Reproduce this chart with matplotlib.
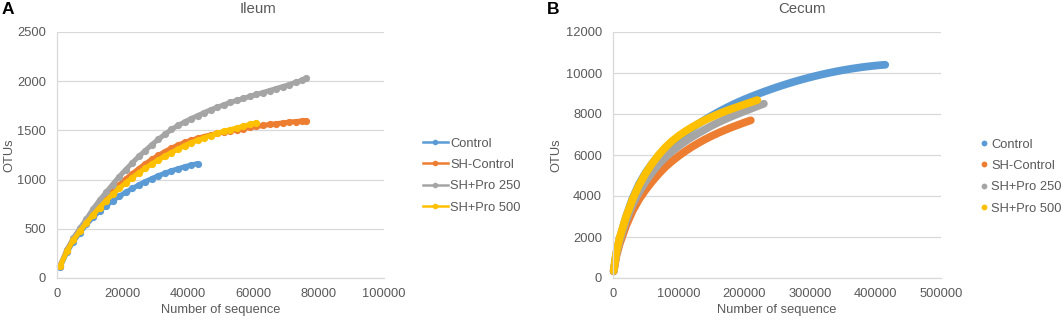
import matplotlib
matplotlib.use("Agg")
import matplotlib.pyplot as plt
from matplotlib.lines import Line2D

plt.rcParams['font.family'] = ['Liberation Sans', 'DejaVu Sans']

# ---------------- data ----------------
series_names = ["Control", "SH-Control", "SH+Pro 250", "SH+Pro 500"]
colors = ["#5B9BD5", "#ED7D31", "#A5A5A5", "#FFC000"]

# Ileum: sequencing depth (number of sequences)
ileum_depth = [1000, 3000, 5000, 7000, 9000, 11000, 13000, 15000, 17000, 19000,
               21000, 23000, 25000, 27000, 29000, 31000, 33000, 35000, 37000, 39000,
               41000, 43000, 45000, 47000, 49000, 51000, 53000, 55000, 57000, 59000,
               61000, 63000, 65000, 67000, 69000, 71000, 73000, 75000, 76000]

ileum_control = [115, 260, 370, 460, 545, 615, 680, 735, 785, 830,
                 870, 910, 945, 980, 1010, 1040, 1065, 1090, 1110, 1130,
                 1148, 1163]
ileum_sh_control = [125, 280, 395, 490, 580, 660, 740, 810, 880, 945,
                    1005, 1060, 1110, 1160, 1205, 1245, 1285, 1320, 1350, 1378,
                    1400, 1420, 1438, 1455, 1470, 1483, 1495, 1507, 1518, 1530,
                    1540, 1550, 1560, 1568, 1576, 1584, 1590, 1596, 1600]
ileum_pro250 = [130, 285, 405, 505, 600, 700, 790, 870, 950, 1030,
                1100, 1170, 1235, 1295, 1355, 1410, 1460, 1510, 1550, 1585,
                1620, 1650, 1680, 1710, 1735, 1760, 1785, 1805, 1825, 1845,
                1865, 1885, 1905, 1925, 1945, 1965, 1990, 2010, 2030]
ileum_pro500 = [120, 270, 385, 475, 560, 640, 715, 785, 850, 910,
                965, 1020, 1070, 1115, 1160, 1200, 1240, 1275, 1310, 1345,
                1375, 1400, 1425, 1448, 1470, 1490, 1508, 1525, 1542, 1560,
                1578]

# Cecum: sequencing depth
cecum_depth = [1000, 5000, 10000, 20000, 30000, 40000, 50000, 60000, 70000, 80000,
               90000, 100000, 110000, 120000, 130000, 140000, 150000, 160000, 170000, 180000,
               190000, 200000, 210000, 220000, 230000, 240000, 250000, 260000, 270000, 280000,
               290000, 300000, 310000, 320000, 330000, 340000, 350000, 360000, 370000, 380000,
               390000, 400000, 410000, 415000]

cecum_control = [340, 1200, 1900, 3000, 3900, 4600, 5150, 5600, 5980, 6310,
                 6600, 6860, 7090, 7310, 7520, 7720, 7910, 8090, 8260, 8420,
                 8570, 8710, 8840, 8965, 9085, 9200, 9310, 9415, 9515, 9610,
                 9700, 9785, 9865, 9940, 10010, 10075, 10135, 10190, 10240, 10285,
                 10325, 10360, 10390, 10400]
cecum_sh_control = [320, 1050, 1650, 2550, 3280, 3850, 4310, 4720, 5090, 5420,
                    5700, 5950, 6180, 6390, 6580, 6760, 6920, 7070, 7210, 7340,
                    7460, 7580, 7690]
cecum_pro250 = [330, 1150, 1800, 2800, 3600, 4200, 4720, 5170, 5560, 5900,
                6180, 6430, 6660, 6870, 7060, 7240, 7420, 7580, 7730, 7870,
                8000, 8130, 8250, 8380, 8500]
cecum_pro500 = [350, 1250, 1950, 3000, 3850, 4550, 5120, 5600, 6020, 6380,
                6680, 6930, 7150, 7350, 7530, 7700, 7850, 7990, 8120, 8240,
                8350, 8460, 8570, 8680]

ileum_xticks = [0, 20000, 40000, 60000, 80000, 100000]
ileum_yticks = [0, 500, 1000, 1500, 2000, 2500]
cecum_xticks = [0, 100000, 200000, 300000, 400000, 500000]
cecum_yticks = [0, 2000, 4000, 6000, 8000, 10000, 12000]

# ---------------- figure ----------------
W, H = 1062, 321
fig = plt.figure(figsize=(W / 100, H / 100), dpi=100)

TXT = "#595959"
GRID = "#D9D9D9"


def px_axes(x0, x1, y0, y1):
    return fig.add_axes([x0 / W, 1 - y1 / H, (x1 - x0) / W, (y1 - y0) / H])


def style(ax, xt, yt):
    ax.set_xticks(xt)
    ax.set_yticks(yt)
    ax.set_xlim(xt[0], xt[-1])
    ax.set_ylim(yt[0], yt[-1])
    ax.set_xticklabels([str(v) for v in xt])
    ax.set_yticklabels([str(v) for v in yt])
    ax.grid(axis='y', color=GRID, lw=0.9)
    ax.set_axisbelow(True)
    for s in ['top', 'right']:
        ax.spines[s].set_visible(False)
    ax.spines['left'].set_color(GRID)
    ax.spines['bottom'].set_color(GRID)
    ax.spines['left'].set_linewidth(0.9)
    ax.spines['bottom'].set_linewidth(0.9)
    ax.tick_params(length=0, labelsize=9.3, colors=TXT)
    ax.tick_params(axis='y', pad=8)
    ax.tick_params(axis='x', pad=7)
    ax.set_xlabel("Number of sequence", fontsize=9.3, color=TXT, labelpad=3)


# ---- Ileum ----
ax1 = px_axes(57, 384, 32, 278)
ileum_vals = [ileum_control, ileum_sh_control, ileum_pro250, ileum_pro500]
for name, vals, c in zip(series_names, ileum_vals, colors):
    ax1.plot(ileum_depth[:len(vals)], vals, color=c, lw=3.6, marker='o',
             markersize=5.2, markeredgewidth=0, label=name, clip_on=False,
             solid_capstyle='round', solid_joinstyle='round')
style(ax1, ileum_xticks, ileum_yticks)

leg1_handles = [Line2D([0], [0], color=c, lw=1.8, marker='o', markersize=4,
                       markeredgewidth=0) for c in colors]
fig.legend(leg1_handles, series_names, loc='center left',
           bbox_to_anchor=(423 / W, 1 - 175.5 / H), frameon=False,
           fontsize=9.3, labelcolor=TXT, handlelength=1.9, handletextpad=0.2,
           labelspacing=0.72, borderpad=0, borderaxespad=0)

# ---- Cecum ----
ax2 = px_axes(613, 941, 32, 278)
cecum_vals = [cecum_control, cecum_sh_control, cecum_pro250, cecum_pro500]
for name, vals, c in zip(series_names, cecum_vals, colors):
    ax2.plot(cecum_depth[:len(vals)], vals, color=c, lw=5.6,
             solid_capstyle='round', solid_joinstyle='round', label=name,
             clip_on=False)
style(ax2, cecum_xticks, cecum_yticks)

leg2_handles = [Line2D([0], [0], color=c, lw=0, marker='o', markersize=4.2,
                       markeredgewidth=0) for c in colors]
fig.legend(leg2_handles, series_names, loc='center left',
           bbox_to_anchor=(980 / W, 1 - 176.5 / H), frameon=False,
           fontsize=9.3, labelcolor=TXT, handlelength=0.6, handletextpad=0.25,
           labelspacing=0.72, borderpad=0, borderaxespad=0)

# ---- y labels, titles and panel letters ----
fig.text(9 / W, 1 - 155 / H, "OTUs", fontsize=9.3, color=TXT, rotation=90,
         ha='center', va='center')
fig.text(556 / W, 1 - 155 / H, "OTUs", fontsize=9.3, color=TXT, rotation=90,
         ha='center', va='center')
fig.text(258 / W, 1 - 9 / H, "Ileum", fontsize=10.8, color=TXT,
         ha='center', va='center')
fig.text(802 / W, 1 - 9 / H, "Cecum", fontsize=10.8, color=TXT,
         ha='center', va='center')
fig.text(2 / W, 1 - 9 / H, "A", fontsize=12.5, fontweight='bold',
         color='black', ha='left', va='center')
fig.text(547 / W, 1 - 9 / H, "B", fontsize=12.5, fontweight='bold',
         color='black', ha='left', va='center')

fig.savefig("out.png", dpi=100)
